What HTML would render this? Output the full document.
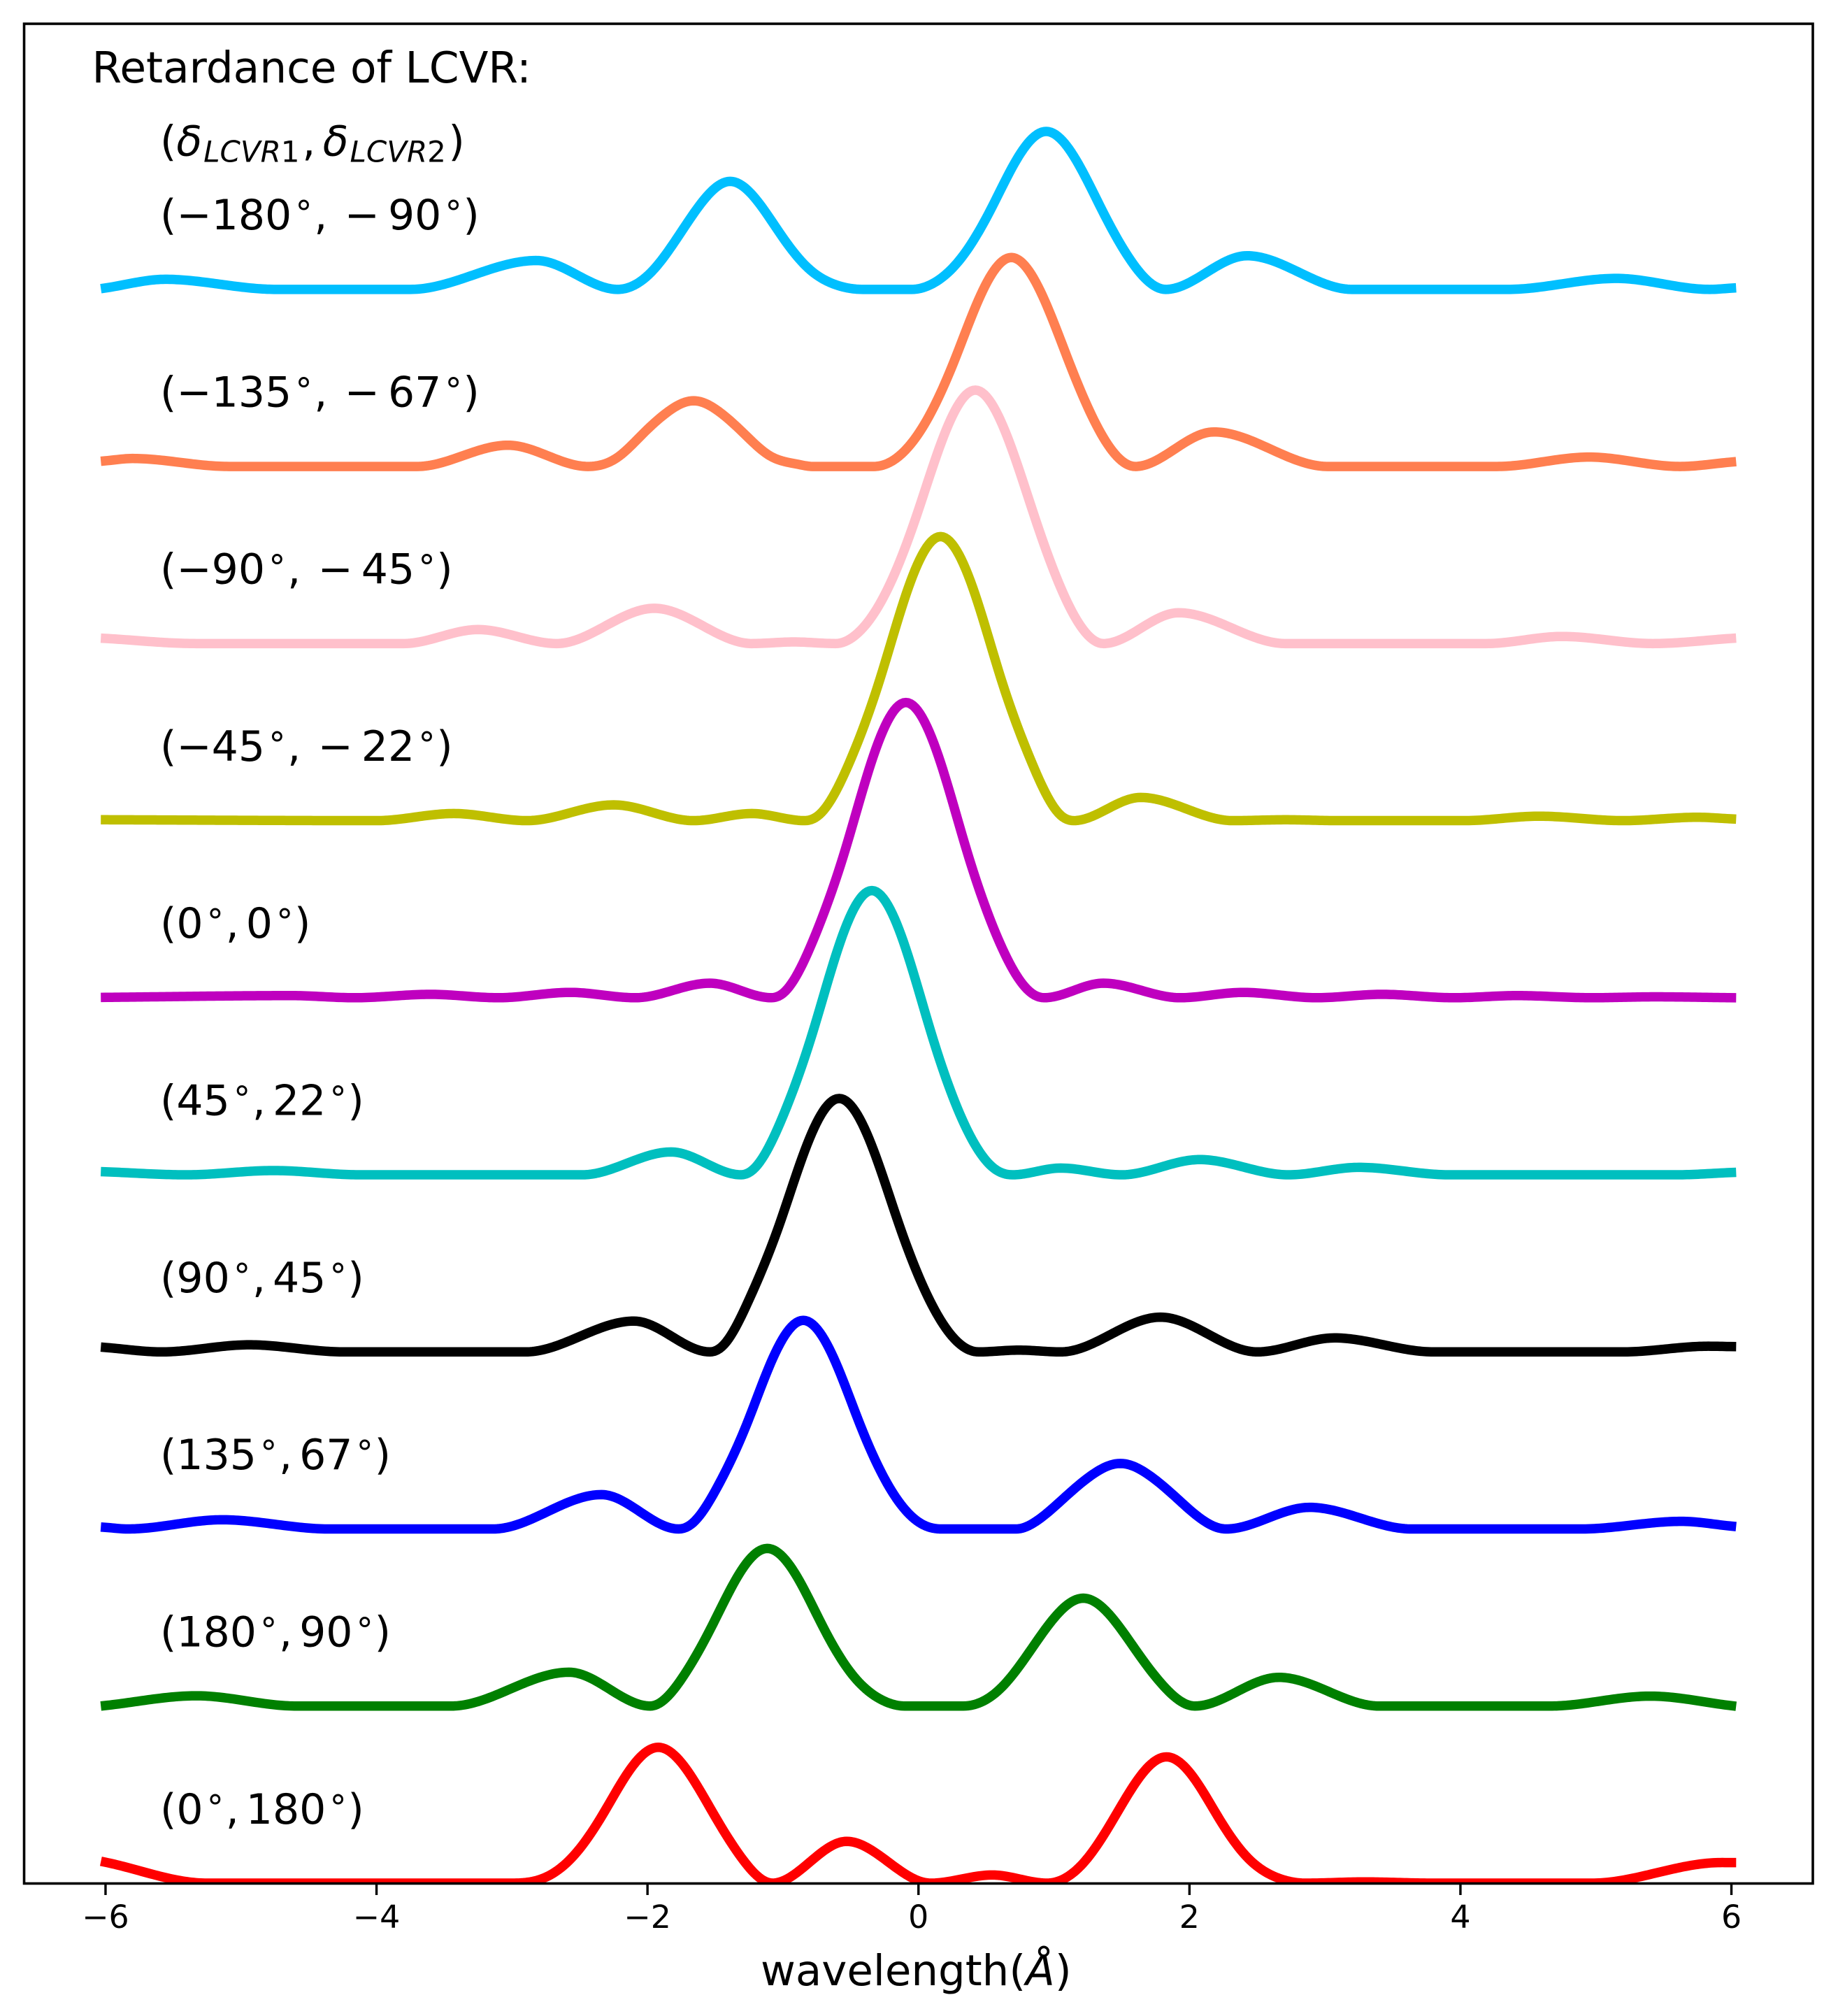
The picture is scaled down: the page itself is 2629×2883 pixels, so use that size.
<!DOCTYPE html>
<html lang="en">
<head>
<meta charset="utf-8">
<title>Retardance of LCVR</title>
<style>
html,body{margin:0;padding:0;background:#fff;}
svg{display:block;}
text{font-family:"DejaVu Sans","Liberation Sans",sans-serif;fill:#000;font-size:60px;white-space:pre;}
.deg{font-size:48px;}
.sub{font-size:42px;font-style:italic;}
.it{font-style:italic;}
.up{font-style:normal;}
.tick{font-size:45.8px;text-anchor:middle;}
</style>
</head>
<body>
<svg id="chart" xmlns="http://www.w3.org/2000/svg" width="2629" height="2883" viewBox="0 0 2629 2883">
  <defs><clipPath id="plot-clip"><rect x="34.5" y="34" width="2558.5" height="2659"/></clipPath></defs>
  <rect x="0" y="0" width="2629" height="2883" fill="#fff"/>
  <g id="series-layer" clip-path="url(#plot-clip)"></g>
  <g id="tick-layer"></g>
  <rect x="34.5" y="34" width="2558.5" height="2659.5" fill="none" stroke="#000" stroke-width="3.6"/>

  <text x="131.5" y="118" style="font-size:61.3px">Retardance of LCVR:</text>
  <text x="229" y="222.7">(<tspan class="it">δ</tspan><tspan class="sub" dx="2" dy="9">LCVR<tspan class="up">1</tspan></tspan><tspan dx="3.7" dy="-9">,</tspan><tspan class="it" dx="10.5">δ</tspan><tspan class="sub" dx="2" dy="9">LCVR<tspan class="up">2</tspan></tspan><tspan dx="3.5" dy="-9">)</tspan></text>

  <text x="229" y="328">(−180<tspan class="deg" dx="5.3" dy="-6.7">°</tspan><tspan dx="2.8" dy="6.7">,</tspan><tspan dx="24.3">−</tspan><tspan dx="12">90</tspan><tspan class="deg" dx="5.3" dy="-6.7">°</tspan><tspan dx="1.8" dy="6.7">)</tspan></text>
  <text x="229" y="581.5">(−135<tspan class="deg" dx="5.3" dy="-6.7">°</tspan><tspan dx="2.8" dy="6.7">,</tspan><tspan dx="24.3">−</tspan><tspan dx="12">67</tspan><tspan class="deg" dx="5.3" dy="-6.7">°</tspan><tspan dx="1.8" dy="6.7">)</tspan></text>
  <text x="229" y="834.7">(−90<tspan class="deg" dx="5.3" dy="-6.7">°</tspan><tspan dx="2.8" dy="6.7">,</tspan><tspan dx="24.3">−</tspan><tspan dx="12">45</tspan><tspan class="deg" dx="5.3" dy="-6.7">°</tspan><tspan dx="1.8" dy="6.7">)</tspan></text>
  <text x="229" y="1088">(−45<tspan class="deg" dx="5.3" dy="-6.7">°</tspan><tspan dx="2.8" dy="6.7">,</tspan><tspan dx="24.3">−</tspan><tspan dx="12">22</tspan><tspan class="deg" dx="5.3" dy="-6.7">°</tspan><tspan dx="1.8" dy="6.7">)</tspan></text>
  <text x="229" y="1341">(0<tspan class="deg" dx="5.3" dy="-6.7">°</tspan><tspan dx="2.8" dy="6.7">,</tspan><tspan dx="10">0</tspan><tspan class="deg" dx="5.3" dy="-6.7">°</tspan><tspan dx="1.8" dy="6.7">)</tspan></text>
  <text x="229" y="1594.5">(45<tspan class="deg" dx="5.3" dy="-6.7">°</tspan><tspan dx="2.8" dy="6.7">,</tspan><tspan dx="10">22</tspan><tspan class="deg" dx="5.3" dy="-6.7">°</tspan><tspan dx="1.8" dy="6.7">)</tspan></text>
  <text x="229" y="1848">(90<tspan class="deg" dx="5.3" dy="-6.7">°</tspan><tspan dx="2.8" dy="6.7">,</tspan><tspan dx="10">45</tspan><tspan class="deg" dx="5.3" dy="-6.7">°</tspan><tspan dx="1.8" dy="6.7">)</tspan></text>
  <text x="229" y="2101">(135<tspan class="deg" dx="5.3" dy="-6.7">°</tspan><tspan dx="2.8" dy="6.7">,</tspan><tspan dx="10">67</tspan><tspan class="deg" dx="5.3" dy="-6.7">°</tspan><tspan dx="1.8" dy="6.7">)</tspan></text>
  <text x="229" y="2354.5">(180<tspan class="deg" dx="5.3" dy="-6.7">°</tspan><tspan dx="2.8" dy="6.7">,</tspan><tspan dx="10">90</tspan><tspan class="deg" dx="5.3" dy="-6.7">°</tspan><tspan dx="1.8" dy="6.7">)</tspan></text>
  <text x="229" y="2608">(0<tspan class="deg" dx="5.3" dy="-6.7">°</tspan><tspan dx="2.8" dy="6.7">,</tspan><tspan dx="10">180</tspan><tspan class="deg" dx="5.3" dy="-6.7">°</tspan><tspan dx="1.8" dy="6.7">)</tspan></text>

  <text x="1088" y="2839" style="font-size:61px">wavelength(<tspan class="it">Å</tspan>)</text>
</svg>
<script>
// Wavelength (x) and intensity above each curve's own baseline.
const xCyan = [-6,-5.56,-4.74,-3.75,-2.82,-2.22,-1.963,-1.768,-1.59,-1.39,-1.19,-1.012,-0.817,-0.606,-0.41,-0.05,0.085,0.316,0.53,0.723,0.943,1.163,1.356,1.57,1.825,2.425,3.2,4.35,5.15,5.84,6];
const yCyan = [0.008,0.057,0,0,0.163,0,0.105,0.305,0.5,0.61,0.5,0.305,0.122,0.025,0,0,0.025,0.178,0.446,0.731,0.892,0.731,0.446,0.16,0,0.19,0,0,0.062,0,0.007];
const xCoral = [-6,-5.8,-5.09,-3.7,-3.03,-2.44,-2.224,-2.032,-1.858,-1.66,-1.462,-1.288,-1.096,-0.888,-0.78,-0.33,-0.196,0.042,0.261,0.459,0.686,0.913,1.111,1.33,1.6,2.18,3.02,4.27,4.95,5.62,6];
const yCoral = [0.032,0.045,0,0,0.12,0,0.05,0.186,0.304,0.371,0.304,0.186,0.06,0.012,0,0,0.03,0.236,0.59,0.968,1.18,0.968,0.59,0.21,0,0.195,0,0,0.053,0,0.025];
const xPink = [-6,-5.33,-3.8,-3.25,-2.67,-1.95,-1.23,-0.92,-0.61,-0.487,-0.242,-0.017,0.187,0.42,0.653,0.857,1.082,1.365,1.92,2.71,4.19,4.75,5.42,6];
const yPink = [0.029,0,0,0.079,0,0.199,0,0.009,0,0.035,0.286,0.716,1.173,1.431,1.173,0.716,0.26,0,0.174,0,0,0.04,0,0.029];
const xOlive = [-6,-4.0,-3.43,-2.89,-2.25,-1.66,-1.23,-0.84,-0.73,-0.514,-0.283,-0.075,0.163,0.401,0.609,0.84,1.05,1.146,1.64,2.32,2.71,3.1,4.03,4.58,5.2,5.75,6];
const yOlive = [0.005,0,0.04,0,0.089,0,0.04,0,0.035,0.321,0.802,1.315,1.604,1.315,0.802,0.321,0.03,0,0.131,0,0.005,0,0,0.025,0,0.019,0.01];
const xMagenta = [-6,-4.63,-4.16,-3.6,-3.1,-2.57,-2.09,-1.54,-1.085,-1.0,-0.773,-0.541,-0.332,-0.093,0.146,0.355,0.587,0.82,0.928,1.365,1.93,2.394,2.94,3.42,3.95,4.42,4.97,5.44,6];
const yMagenta = [0.002,0.012,0,0.019,0,0.03,0,0.082,0,0.025,0.333,0.834,1.367,1.667,1.367,0.834,0.333,0.035,0,0.082,0,0.03,0,0.019,0,0.012,0,0.005,0];
const xTeal = [-6,-5.4,-4.76,-4.12,-2.48,-1.826,-1.31,-1.22,-1.006,-0.781,-0.577,-0.344,-0.111,0.093,0.318,0.56,0.694,1.05,1.5,2.075,2.73,3.25,3.92,5.59,6];
const yTeal = [0.017,0,0.024,0,0,0.129,0,0.03,0.321,0.803,1.316,1.605,1.316,0.803,0.321,0.035,0,0.038,0,0.086,0,0.042,0,0,0.013];
const xBlack = [-6,-5.585,-4.94,-4.24,-2.9,-2.1,-1.54,-1.45,-1.256,-1.028,-0.821,-0.585,-0.349,-0.142,0.086,0.33,0.444,0.74,1.05,1.786,2.5,3.07,3.8,5.2,5.83,6];
const yBlack = [0.025,0,0.04,0,0,0.174,0,0.03,0.286,0.716,1.173,1.431,1.173,0.716,0.286,0.03,0,0.01,0,0.196,0,0.079,0,0,0.032,0.03];
const xBlue = [-6,-5.835,-5.14,-4.35,-3.14,-2.34,-1.77,-1.68,-1.485,-1.269,-1.074,-0.85,-0.626,-0.431,-0.215,0.02,0.17,0.72,0.881,1.089,1.276,1.49,1.704,1.891,2.099,2.27,2.886,3.64,4.89,5.63,6];
const yBlue = [0.009,0,0.052,0,0,0.194,0,0.025,0.236,0.589,0.966,1.178,0.966,0.589,0.236,0.03,0,0,0.05,0.185,0.303,0.37,0.303,0.185,0.05,0,0.122,0,0,0.043,0.016];
const xGreen = [-6,-5.33,-4.59,-3.45,-2.58,-1.98,-1.743,-1.529,-1.336,-1.116,-0.896,-0.703,-0.489,-0.258,-0.1,0.33,0.613,0.818,1.004,1.216,1.428,1.614,1.819,2.04,2.66,3.4,4.66,5.4,6];
const yGreen = [0.003,0.058,0,0,0.191,0,0.16,0.445,0.73,0.89,0.73,0.445,0.178,0.03,0,0,0.105,0.305,0.5,0.609,0.5,0.305,0.105,0,0.162,0,0,0.056,0.002];
const xRed = [-6,-5.25,-3.0,-2.778,-2.547,-2.333,-2.14,-1.92,-1.7,-1.507,-1.293,-1.077,-0.53,0.09,0.545,0.95,1.23,1.435,1.619,1.83,2.041,2.225,2.43,2.651,2.86,3.29,3.8,4.97,5.9,6];
const yRed = [0.118,0,0,0.025,0.153,0.384,0.629,0.767,0.629,0.384,0.13,0,0.236,0,0.046,0,0.125,0.357,0.585,0.713,0.585,0.357,0.143,0.03,0,0.007,0,0,0.116,0.116];

const seriesNames = ['red','green','blue','black','teal','magenta','olive','pink','coral','cyan'];
const seriesX = [xRed,xGreen,xBlue,xBlack,xTeal,xMagenta,xOlive,xPink,xCoral,xCyan];
const seriesY = [yRed,yGreen,yBlue,yBlack,yTeal,yMagenta,yOlive,yPink,yCoral,yCyan];
const seriesOffsets = [0,1,2,3,4,5,6,7,8,9];
const seriesColors = ['#ff0000','#008000','#0000ff','#000000','#00bfbf','#bf00bf','#bfbf00','#ffc0cb','#ff7f50','#00bfff'];
const tickValues = [-6,-4,-2,0,2,4,6];
const tickLabels = ['−6','−4','−2','0','2','4','6'];

const SVGNS = 'http://www.w3.org/2000/svg';
const scaleX = v => 1313.75 + 193.8 * v;
const scaleY = v => 2693 - 253.24 * v;

// Clamped C2 spline per lobe: knots at minima are fixed at zero slope.
function slopes(xs, ys) {
  const n = xs.length, h = [], d = [], m = new Array(n).fill(0), fixed = new Array(n).fill(false);
  for (let i = 0; i < n - 1; i++) {
    h[i] = xs[i + 1] - xs[i];
    d[i] = (ys[i + 1] - ys[i]) / h[i];
  }
  fixed[0] = fixed[n - 1] = true;
  m[0] = d[0];
  m[n - 1] = d[n - 2];
  for (let i = 1; i < n - 1; i++) {
    if (d[i - 1] <= 0 && d[i] >= 0) fixed[i] = true;
  }
  for (let i = 1; i < n - 1; i++) {
    if (d[i - 1] > 0 && d[i] < 0 && fixed[i - 1] && fixed[i + 1]) fixed[i] = true;
  }
  let a = 0;
  for (let b = 1; b < n; b++) {
    if (!fixed[b]) continue;
    if (b - a > 1) solveRun(a, b, h, d, m);
    a = b;
  }
  return m;
}

function solveRun(a, b, h, d, m) {
  const cp = [], dp = [];
  for (let i = a + 1; i < b; i++) {
    const lower = h[i], diag = 2 * (h[i - 1] + h[i]), upper = h[i - 1];
    let rhs = 3 * (h[i] * d[i - 1] + h[i - 1] * d[i]);
    if (i === a + 1) rhs -= lower * m[a];
    if (i === b - 1) rhs -= upper * m[b];
    const k = i - a - 1;
    const denom = k === 0 ? diag : diag - lower * cp[k - 1];
    cp[k] = upper / denom;
    dp[k] = k === 0 ? rhs / denom : (rhs - lower * dp[k - 1]) / denom;
  }
  for (let k = b - a - 2; k >= 0; k--) {
    const next = k === b - a - 2 ? 0 : m[a + k + 2];
    m[a + k + 1] = dp[k] - cp[k] * next;
  }
}

function curvePath(xs, ys, offset) {
  const m = slopes(xs, ys);
  const parts = [];
  for (let i = 0; i < xs.length - 1; i++) {
    const h = xs[i + 1] - xs[i];
    const steps = Math.max(4, Math.round(h * 60));
    for (let s = (i === 0 ? 0 : 1); s <= steps; s++) {
      const t = s / steps, t2 = t * t, t3 = t2 * t;
      const v = (2*t3 - 3*t2 + 1) * ys[i] + (t3 - 2*t2 + t) * h * m[i]
              + (-2*t3 + 3*t2) * ys[i + 1] + (t3 - t2) * h * m[i + 1];
      const px = scaleX(xs[i] + t * h), py = scaleY(Math.max(0, v) + offset);
      parts.push((parts.length ? 'L' : 'M') + px.toFixed(2) + ' ' + py.toFixed(2));
    }
  }
  return parts.join('');
}

const seriesLayer = document.getElementById('series-layer');
seriesNames.forEach(function (name, i) {
  const path = document.createElementNS(SVGNS, 'path');
  
  
  path.setAttribute('d', curvePath(seriesX[i], seriesY[i], seriesOffsets[i]));
  path.setAttribute('fill', 'none');
  path.setAttribute('stroke', seriesColors[i]);
  path.setAttribute('stroke-width', '13.5');
  path.setAttribute('stroke-linecap', 'square');
  path.setAttribute('stroke-linejoin', 'round');
  seriesLayer.appendChild(path);
});

const tickLayer = document.getElementById('tick-layer');
tickValues.forEach(function (value, i) {
  const line = document.createElementNS(SVGNS, 'line');
  
  
  line.setAttribute('x1', scaleX(value));
  line.setAttribute('x2', scaleX(value));
  line.setAttribute('y1', 2693);
  line.setAttribute('y2', 2710);
  line.setAttribute('stroke', '#000');
  line.setAttribute('stroke-width', '3.4');
  tickLayer.appendChild(line);
  const label = document.createElementNS(SVGNS, 'text');
  
  
  label.setAttribute('class', 'tick');
  label.setAttribute('x', scaleX(value));
  label.setAttribute('y', 2757);
  label.textContent = tickLabels[i];
  tickLayer.appendChild(label);
});
</script>
</body>
</html>
